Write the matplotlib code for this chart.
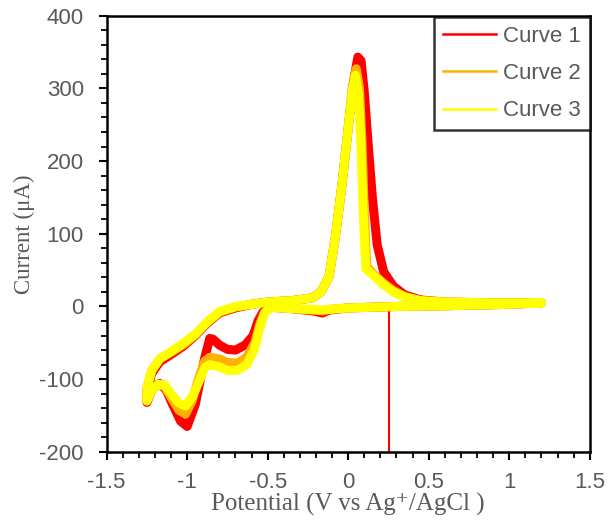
import matplotlib
matplotlib.use("Agg")
import matplotlib.pyplot as plt
from matplotlib.ticker import MultipleLocator

# cyclic voltammograms (loop: 1.2 V -> -1.25 V -> 1.2 V)
c1_E = [1.2, 1.0, 0.6, 0.3, 0.0, -0.12, -0.16, -0.22, -0.35, -0.48, -0.53, -0.56, -0.59, -0.64,
        -0.7, -0.75, -0.8, -0.84, -0.86, -0.89, -0.95, -1.0, -1.04, -1.09, -1.13, -1.17, -1.21, -1.25,
        -1.25, -1.22, -1.17, -1.1, -1.02, -0.95, -0.88, -0.8, -0.7, -0.6, -0.5, -0.35, -0.22,
        -0.17, -0.12, -0.08, -0.04, 0.0, 0.03, 0.06, 0.08, 0.1, 0.12, 0.15, 0.18, 0.22, 0.28,
        0.35, 0.45, 0.6, 0.9, 1.2]
c1_I = [5, 3, 1, 0, -2, -5, -9, -6, -3, -1, -8, -20, -40, -53,
        -60, -59, -53, -45, -44, -70, -135, -165, -158, -135, -115, -106, -110, -132,
        -115, -92, -76, -66, -54, -40, -24, -9, -2, 3, 6, 8, 12,
        20, 40, 95, 165, 245, 305, 343, 338, 295, 235, 150, 85, 48, 28,
        16, 9, 6, 5, 5]

c2_E = [1.2, 1.0, 0.6, 0.3, 0.0, -0.12, -0.16, -0.22, -0.35, -0.48, -0.52, -0.55, -0.58, -0.63,
        -0.69, -0.75, -0.8, -0.86, -0.89, -0.93, -0.97, -1.01, -1.05, -1.1, -1.14, -1.18, -1.22, -1.25,
        -1.25, -1.22, -1.17, -1.1, -1.02, -0.95, -0.88, -0.8, -0.7, -0.6, -0.5, -0.35, -0.22,
        -0.17, -0.12, -0.08, -0.04, 0.0, 0.025, 0.05, 0.07, 0.085, 0.1, 0.115, 0.16, 0.22, 0.28,
        0.35, 0.45, 0.6, 0.9, 1.2]
c2_I = [5, 3, 1, 0, -2, -4, -6, -5, -3, -1, -8, -25, -50, -70,
        -78, -77, -72, -70, -75, -100, -130, -148, -143, -125, -110, -108, -115, -130,
        -112, -88, -72, -63, -52, -39, -23, -8, -1, 3, 6, 8, 12,
        20, 40, 95, 165, 245, 300, 327, 300, 230, 130, 55, 44, 32, 22,
        14, 8, 6, 5, 5]

c3_E = [1.2, 1.0, 0.6, 0.3, 0.0, -0.12, -0.16, -0.22, -0.35, -0.48, -0.52, -0.55, -0.58, -0.63,
        -0.69, -0.75, -0.8, -0.86, -0.89, -0.93, -0.97, -1.01, -1.05, -1.1, -1.14, -1.18, -1.22, -1.25,
        -1.25, -1.22, -1.17, -1.1, -1.02, -0.95, -0.88, -0.8, -0.7, -0.6, -0.5, -0.35, -0.22,
        -0.17, -0.12, -0.08, -0.04, 0.0, 0.025, 0.045, 0.065, 0.08, 0.095, 0.11, 0.16, 0.22, 0.28,
        0.35, 0.45, 0.6, 0.9, 1.2]
c3_I = [5, 3, 1, 0, -2, -4, -5, -4, -3, -1, -10, -30, -58, -80,
        -88, -88, -83, -80, -84, -105, -125, -137, -133, -120, -108, -107, -115, -130,
        -112, -88, -72, -62, -50, -38, -22, -7, 0, 3, 6, 8, 12,
        20, 40, 95, 165, 245, 295, 318, 290, 220, 120, 52, 42, 30, 20,
        13, 8, 6, 5, 5]

# stray vertical segment at the start of curve 1
spike_E = [0.255, 0.255]
spike_I = [-260, 0]

labels = ["Curve 1", "Curve 2", "Curve 3"]
colors = ["#ff0000", "#ffb000", "#ffff00"]

gray = "#595959"

fig = plt.figure(figsize=(6.13, 5.23), dpi=100)
ax = fig.add_axes([0.174, 0.136, 0.788, 0.834])

ax.plot(spike_E, spike_I, color=colors[0], lw=1.5, zorder=1)
for E, I, lab, col in zip([c1_E, c2_E, c3_E], [c1_I, c2_I, c3_I], labels, colors):
    ax.plot(E, I, color=col, lw=6.5, solid_joinstyle="round", solid_capstyle="round",
            label=lab, zorder=2)

ax.set_xlim(-1.5, 1.5)
ax.set_ylim(-200, 400)
ax.xaxis.set_minor_locator(MultipleLocator(0.1))
ax.yaxis.set_minor_locator(MultipleLocator(20))
ax.set_xticks([-1.5, -1, -0.5, 0, 0.5, 1, 1.5])
ax.set_xticklabels(["-1.5", "-1", "-0.5", "0", "0.5", "1", "1.5"])
ax.set_yticks([-200, -100, 0, 100, 200, 300, 400])
ax.set_yticklabels(["-200", "-100", "0", "100", "200", "300", "400"])

ax.tick_params(which="major", direction="out", length=5.5, width=1.5, colors="black",
               labelcolor=gray, labelsize=16)
ax.tick_params(axis="x", which="major", pad=9)
ax.tick_params(axis="y", which="major", pad=11)
ax.tick_params(which="minor", direction="out", length=4, width=1.3, colors="black")
for lab in ax.get_xticklabels() + ax.get_yticklabels():
    lab.set_family("Liberation Sans")
for sp in ax.spines.values():
    sp.set_linewidth(1.8)

ax.set_xlabel("Potential (V vs Ag\u207a/AgCl )", family=["Liberation Serif", "DejaVu Serif"],
              fontsize=18, color=gray, labelpad=0)
ax.set_ylabel("Current (\u03bcA)", family="Liberation Serif", fontsize=16.5,
              color=gray, labelpad=3)

handles = [plt.Line2D([], [], color=c, lw=1.8) for c in colors]
leg = ax.legend(handles, labels, loc="upper right", bbox_to_anchor=(1.0, 1 - 1 / 435),
                frameon=True, fancybox=False,
                prop={"family": "Liberation Sans", "size": 16}, handlelength=2.4,
                handletextpad=0.3, labelspacing=0.74, borderpad=0.4, borderaxespad=0)
leg.get_frame().set_edgecolor("black")
leg.get_frame().set_linewidth(1.8)
for t in leg.get_texts():
    t.set_color(gray)

fig.savefig("out.png", dpi=100)
